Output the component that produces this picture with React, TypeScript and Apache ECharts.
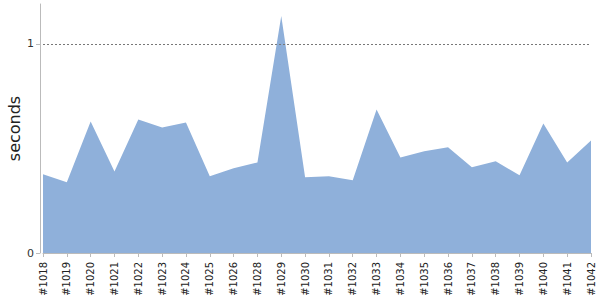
import React, { useEffect, useRef } from "react";
import * as echarts from "echarts";

const categories = ["#1018", "#1019", "#1020", "#1021", "#1022", "#1023", "#1024", "#1025", "#1026", "#1028", "#1029", "#1030", "#1031", "#1032", "#1033", "#1034", "#1035", "#1036", "#1037", "#1038", "#1039", "#1040", "#1041", "#1042"];
const seconds = [0.376, 0.338, 0.629, 0.39, 0.638, 0.6, 0.624, 0.367, 0.405, 0.433, 1.133, 0.362, 0.367, 0.348, 0.686, 0.457, 0.486, 0.505, 0.41, 0.438, 0.371, 0.619, 0.433, 0.538];
const yTicks = [0, 1];

const FONT = "'DejaVu Sans', Verdana, sans-serif";

export default function App() {
  const ref = useRef<HTMLDivElement>(null);
  useEffect(() => {
    const chart = echarts.init(ref.current!, null, { renderer: "svg" });
    chart.setOption({
      animation: false,
      grid: { left: 43, right: 9, top: 4, bottom: 47, containLabel: false, outerBoundsMode: "none" },
      xAxis: {
        type: "category",
        data: categories,
        boundaryGap: false,
        offset: 3,
        axisLine: { lineStyle: { color: "#bbb" } },
        axisTick: { alignWithLabel: true, length: 4, lineStyle: { color: "#bbb" } },
        axisLabel: { rotate: 90, interval: 0, fontSize: 10, color: "#222", fontFamily: FONT, margin: 6 },
      },
      yAxis: {
        type: "value",
        min: 0,
        max: 1.19,
        offset: 3,
        name: "seconds",
        nameLocation: "middle",
        nameGap: 18,
        nameMoveOverlap: false,
        nameTextStyle: { fontSize: 16, color: "#222", fontFamily: FONT },
        axisLine: { show: true, lineStyle: { color: "#bbb" } },
        axisTick: { show: true, length: 4, lineStyle: { color: "#bbb" }, customValues: yTicks },
        axisLabel: { fontSize: 11, color: "#333", fontFamily: FONT, margin: 6, customValues: yTicks },
        splitLine: { show: false },
      },
      series: [
        {
          type: "line",
          data: seconds,
          symbol: "none",
          lineStyle: { width: 0 },
          areaStyle: { color: "#8fb0da", opacity: 1 },
          markLine: {
            silent: true,
            symbol: "none",
            label: { show: false },
            lineStyle: { color: "#777", type: [2, 2], width: 1 },
            data: [{ yAxis: 1 }],
          },
        },
      ],
    });
    return () => chart.dispose();
  }, []);
  return <div ref={ref} style={{ width: 600, height: 300, position: "absolute", left: 0, top: 0 }} />;
}
